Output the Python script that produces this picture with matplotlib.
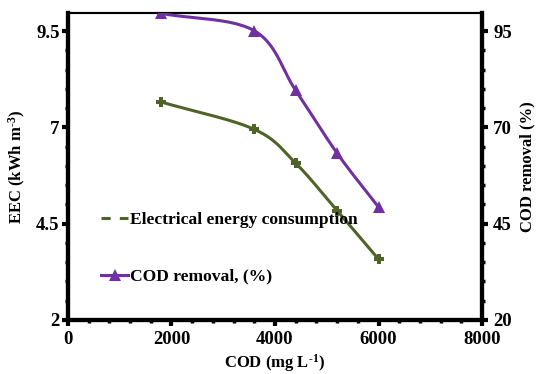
import numpy as np
import matplotlib
matplotlib.use("Agg")
import matplotlib.pyplot as plt
from matplotlib.ticker import MultipleLocator
from matplotlib.lines import Line2D

plt.rcParams['font.family'] = ['Liberation Serif', 'DejaVu Serif']
plt.rcParams['font.weight'] = 'bold'
plt.rcParams['mathtext.fontset'] = 'custom'
plt.rcParams['mathtext.rm'] = 'Liberation Serif:bold'
plt.rcParams['mathtext.bf'] = 'Liberation Serif:bold'
plt.rcParams['mathtext.default'] = 'bf'

cod_mg_l = [1800, 3600, 4400, 5200, 6000]
eec_kwh_m3 = [7.66, 6.95, 6.07, 4.84, 3.58]
cod_removal_pct = [99.6, 95.1, 79.6, 63.3, 49.3]

GREEN = '#4F6228'
PURPLE = '#7030A0'


def smooth(x, y, n=40):
    """Catmull-Rom curve through the given points (spreadsheet-style smoothing)."""
    x = np.asarray(x, float)
    y = np.asarray(y, float)
    px = np.concatenate([[2 * x[0] - x[1]], x, [2 * x[-1] - x[-2]]])
    py = np.concatenate([[2 * y[0] - y[1]], y, [2 * y[-1] - y[-2]]])
    xs, ys = [], []
    t = np.linspace(0, 1, n)
    for i in range(1, len(px) - 2):
        p0, p1, p2, p3 = (np.array([px[j], py[j]]) for j in range(i - 1, i + 3))
        tt = t[:, None]
        pts = 0.5 * ((2 * p1) + (-p0 + p2) * tt + (2 * p0 - 5 * p1 + 4 * p2 - p3) * tt ** 2
                     + (-p0 + 3 * p1 - 3 * p2 + p3) * tt ** 3)
        xs.extend(pts[:, 0])
        ys.extend(pts[:, 1])
    return np.array(xs), np.array(ys)


fig = plt.figure(figsize=(5.48, 3.74), dpi=100)
ax = fig.add_axes([0.124, 0.1444, 0.7556, 0.8208])
ax2 = ax.twinx()

sx, sy = smooth(cod_mg_l, eec_kwh_m3)
ax.plot(sx, sy, color=GREEN, lw=2.2, zorder=3)
ax.plot(cod_mg_l, eec_kwh_m3, linestyle='none', marker='P', ms=7, color=GREEN,
        markeredgewidth=0, zorder=4)

rx, ry = smooth(cod_mg_l, cod_removal_pct)
ax2.plot(rx, ry, color=PURPLE, lw=2.2, zorder=3)
ax2.plot(cod_mg_l, cod_removal_pct, linestyle='none', marker='^', ms=9, color=PURPLE,
         markeredgewidth=0, zorder=4)

ax.set_xlim(0, 8000)
ax.set_ylim(2, 9.97)
ax2.set_ylim(20, 99.7)

ax.xaxis.set_major_locator(MultipleLocator(2000))
ax.xaxis.set_minor_locator(MultipleLocator(400))
ax.set_yticks([2, 4.5, 7, 9.5])
ax.set_yticklabels(['2', '4.5', '7', '9.5'])
ax.yaxis.set_minor_locator(MultipleLocator(0.5))
ax2.set_yticks([20, 45, 70, 95])
ax2.yaxis.set_minor_locator(MultipleLocator(5))

for a in (ax, ax2):
    for side in ('left', 'bottom', 'right'):
        a.spines[side].set_linewidth(3)
    a.spines['top'].set_linewidth(1.5)
    a.tick_params(which='major', direction='out', length=4, width=3, labelsize=13.5, pad=4)
    a.tick_params(which='minor', direction='out', length=2, width=2.5)
ax.tick_params(axis='y', which='major', pad=2)
for lab in ax.get_xticklabels() + ax.get_yticklabels() + ax2.get_yticklabels():
    lab.set_fontweight('bold')

ax.set_xlabel(r'COD (mg L$^{\text{-1}}$)', fontsize=12, fontweight='bold', labelpad=3)
ax.set_ylabel(r'EEC (kWh m$^{\text{-3}}$)', fontsize=12, fontweight='bold', labelpad=6)
ax2.set_ylabel('COD removal (%)', fontsize=12, fontweight='bold', labelpad=5)

handles = [
    Line2D([], [], color=GREEN, lw=2.2, linestyle=(0, (3, 3))),
    Line2D([], [], color=PURPLE, lw=2.2, marker='^', ms=9, markeredgewidth=0),
]
ax.legend(handles, ['Electrical energy consumption', 'COD removal, (%)'],
          loc='upper left', bbox_to_anchor=(0.063, 0.375), frameon=False,
          prop={'weight': 'bold', 'size': 12.6}, handlelength=1.55, handletextpad=0.1,
          labelspacing=2.3, borderaxespad=0)

fig.savefig('out.png', dpi=100)
